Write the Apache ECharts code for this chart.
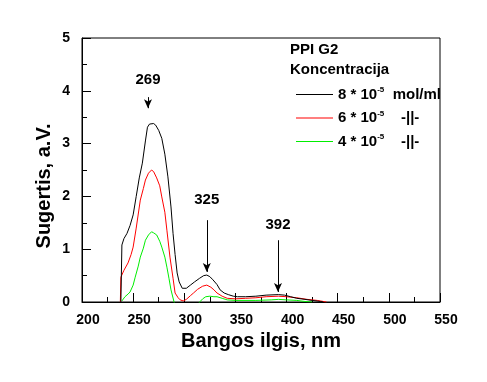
<!DOCTYPE html>
<html><head><meta charset="utf-8">
<script src="https://cdn.jsdelivr.net/npm/echarts@6/dist/echarts.min.js"></script>
<style>html,body{margin:0;padding:0;background:#fff}#c{width:487px;height:382px}</style>
</head><body><div id="c"></div>
<script>
const xTicks = [200, 250, 300, 350, 400, 450, 500, 550];
const yTicks = [0, 1, 2, 3, 4, 5];

const blackNm = [238,239,241,244,247,250,253,256,259,262,264,266,270,272,275,278,281,284,287,289,291,293,295,298,302,306,310,315,319,322,325,328,332,335,339,343,348,352,360,370,380,392,398,404,410,418,425,433,436];
const blackAbs = [0,1.08,1.2,1.3,1.45,1.65,2.0,2.35,2.63,3.05,3.31,3.37,3.38,3.35,3.25,3.1,2.8,2.37,1.8,1.3,0.9,0.55,0.38,0.26,0.26,0.32,0.38,0.45,0.5,0.51,0.48,0.42,0.33,0.23,0.17,0.14,0.11,0.1,0.1,0.11,0.13,0.14,0.13,0.1,0.07,0.05,0.03,0.01,0];

const redNm = [237.5,238,241,245,248,250,253,257,260,262,265,268,270,273,276,278,281,283,286,289,291,294,296,299,302,306,309,313,318,322,326,329,332,337,342,350,360,370,380,392,400,410,420,430,439];
const redAbs = [0,0.47,0.6,0.74,0.9,1.04,1.4,1.93,2.15,2.31,2.44,2.5,2.47,2.35,2.2,1.99,1.7,1.36,0.85,0.45,0.17,0.08,0.04,0.02,0.05,0.12,0.17,0.24,0.3,0.32,0.28,0.23,0.17,0.11,0.07,0.06,0.07,0.08,0.1,0.11,0.1,0.08,0.05,0.03,0];

const greenNm = [239,242,245,247,250,252,255,257,260,262,265,268,270,273,276,278,281,283,285,287,290,293,300,310,315,318,321,325,329,332,337,342,350,370,385,392,400,410,418,425];
const greenAbs = [0.02,0.1,0.15,0.19,0.32,0.47,0.68,0.85,1.02,1.17,1.27,1.33,1.31,1.27,1.15,1.04,0.85,0.66,0.45,0.23,0.0,-0.2,-0.3,-0.15,0.0,0.06,0.1,0.11,0.1,0.1,0.07,0.04,0.03,0.03,0.04,0.05,0.04,0.03,0.01,0];

const peakLabels = ['269', '325', '392'];
const peakArrowX = [264.5, 322, 391.6];
const peakArrowTop = [3.88, 1.55, 1.17];
const peakArrowBottom = [3.67, 0.57, 0.19];
const peakLabelY = [4.2, 1.93, 1.46];

const seriesNames = ['8 * 10{s|-5}  mol/ml', '6 * 10{s|-5}    -||-', '4 * 10{s|-5}    -||-'];
const seriesColors = ['#000000', '#ff0000', '#00ee00'];

function pairs(xs, ys) { return xs.map((x, i) => [x, ys[i]]); }

const FONT = '"Liberation Sans", Arial, sans-serif';
const chart = echarts.init(document.getElementById('c'), null, {renderer: 'canvas'});

const markLineData = peakArrowX.map((x, i) => [
  {coord: [x, peakArrowTop[i]]}, {coord: [x, peakArrowBottom[i]]}
]);
const markPointData = peakLabels.map((t, i) => ({coord: [peakArrowX[i], peakLabelY[i]], value: t}));

const datasets = [pairs(blackNm, blackAbs), pairs(redNm, redAbs), pairs(greenNm, greenAbs)];

const series = datasets.map((d, i) => ({
  name: seriesNames[i],
  type: 'line',
  data: d,
  symbol: 'none',
  showSymbol: false,
  lineStyle: {color: seriesColors[i], width: 1},
  itemStyle: {color: seriesColors[i]},
  clip: true,
  z: 3 - i,
  animation: false
}));

series[0].markLine = {
  silent: true, animation: false,
  symbol: ['none', 'arrow'], symbolSize: [6, 9],
  lineStyle: {color: '#000', width: 1, type: 'solid'},
  label: {show: false},
  data: markLineData
};
series[0].markPoint = {
  silent: true, animation: false,
  symbol: 'rect', symbolSize: 1,
  itemStyle: {color: 'rgba(0,0,0,0)'},
  label: {show: true, position: 'inside', formatter: p => p.value, color: '#000', fontSize: 15, fontWeight: 'bold', fontFamily: FONT},
  data: markPointData
};

chart.setOption({
  animation: false,
  backgroundColor: '#fff',
  grid: {left: 82, right: 47, top: 38, bottom: 80, show: true, borderColor: '#000', borderWidth: 1, backgroundColor: 'transparent'},
  xAxis: {
    type: 'value', min: xTicks[0], max: xTicks[xTicks.length - 1], interval: 50,
    name: 'Bangos ilgis, nm', nameLocation: 'middle', nameGap: 28,
    nameTextStyle: {fontSize: 20, fontWeight: 'bold', color: '#000', fontFamily: FONT},
    axisLine: {show: true, lineStyle: {color: '#000', width: 1}},
    axisTick: {show: true, inside: true, length: 9, lineStyle: {color: '#000'}},
    minorTick: {show: true, splitNumber: 2, length: 5, lineStyle: {color: '#000'}},
    splitLine: {show: false},
    axisLabel: {fontSize: 14, fontWeight: 'bold', color: '#000', margin: 11, fontFamily: FONT, padding: [0, 0, 0, 12]}
  },
  yAxis: {
    type: 'value', min: yTicks[0], max: yTicks[yTicks.length - 1], interval: 1,
    axisLine: {show: true, lineStyle: {color: '#000', width: 1}},
    axisTick: {show: true, inside: true, length: 9, lineStyle: {color: '#000'}},
    minorTick: {show: true, splitNumber: 2, length: 5, lineStyle: {color: '#000'}},
    splitLine: {show: false},
    axisLabel: {fontSize: 14, fontWeight: 'bold', color: '#000', margin: 12, fontFamily: FONT}
  },
  legend: {
    orient: 'vertical', left: 291, top: 81,
    itemWidth: 37, itemHeight: 14, itemGap: 7.5,
    icon: 'path://M0,7 L37,7 L37,8 L0,8 Z',
    data: seriesNames,
    textStyle: {fontSize: 15, fontWeight: 'bold', color: '#000', fontFamily: FONT, padding: [0, 0, 0, 0],
      rich: {s: {fontSize: 8, fontWeight: 'bold', fontFamily: FONT, color: '#000', padding: [0, 0, 9, 0]}}},
    selectedMode: false
  },
  graphic: [
    {type: 'text', left: 290, top: 42, style: {text: 'PPI G2', font: 'bold 15px ' + FONT, fill: '#000'}},
    {type: 'text', left: 290, top: 62, style: {text: 'Koncentracija', font: 'bold 15px ' + FONT, fill: '#000'}},
    {type: 'text', x: 44, y: 186, rotation: Math.PI / 2, style: {text: 'Sugertis, a.V.', font: 'bold 20px ' + FONT, fill: '#000', align: 'center', verticalAlign: 'middle'}}
  ],
  series: series
});
</script></body></html>
